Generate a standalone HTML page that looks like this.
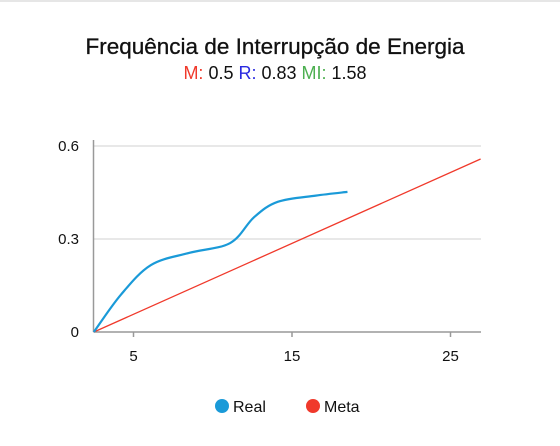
<!DOCTYPE html>
<html><head><meta charset="utf-8"><style>
body{margin:0;background:#fff;width:560px;height:446px;overflow:hidden;font-family:"Liberation Sans",sans-serif}
</style></head><body>
<div style="position:absolute;left:0;top:0;width:560px;height:2px;background:#e6e6e6"></div>
<svg id="chart" width="560" height="446" style="position:absolute;left:0;top:0">
<text x="275" y="54" text-anchor="middle" font-size="22.5" fill="#111" stroke="#111" stroke-width="0.3">Frequência de Interrupção de Energia</text>
<text x="275" y="79" text-anchor="middle" font-size="18"><tspan fill="#f0392b">M:</tspan><tspan fill="#111"> 0.5 </tspan><tspan fill="#2a2ae0">R:</tspan><tspan fill="#111"> 0.83 </tspan><tspan fill="#4caf50">MI:</tspan><tspan fill="#111"> 1.58</tspan></text>
<g id="plot"></g>
<g>
<circle cx="222" cy="406" r="7" fill="#1a9ad8"/>
<text x="233" y="412" font-size="16" fill="#111">Real</text>
<circle cx="313" cy="406" r="7" fill="#f0392b"/>
<text x="324" y="412" font-size="16" fill="#111">Meta</text>
</g>
</svg>
<script>
const xTicks=[5,15,25];
const yTicks=[0,0.3,0.6];
const yTickLabels=["0","0.3","0.6"];
const realX=[2.5,4.2,6.1,8.5,11.1,12.6,14.1,16.5,18.5];
const realY=[0,0.12,0.216,0.255,0.287,0.37,0.42,0.44,0.452];
const metaX=[2.5,26.9];
const metaY=[0,0.558];
const X0=93.5,X1=481,Y0=332;
function sx(v){return 54.25+v*15.85;}
function sy(v){return Y0-v*310;}
const g=document.getElementById('plot');
const NS='http://www.w3.org/2000/svg';
function mk(t,a){const e=document.createElementNS(NS,t);for(const k in a)e.setAttribute(k,a[k]);g.appendChild(e);return e;}
yTicks.forEach((v,i)=>{
 if(v>0){const l=mk('line',{x1:X0,x2:X1,y1:sy(v),y2:sy(v),stroke:'#e0e0e0','stroke-width':1.5});
 
 }
 const t=mk('text',{x:79,y:sy(v)+5,'text-anchor':'end','font-size':15,fill:'#111'});t.textContent=yTickLabels[i];
 
 
});
const ya=mk('line',{x1:X0,x2:X0,y1:140,y2:Y0,stroke:'#999','stroke-width':1.5});


const xa=mk('line',{x1:X0,x2:X1,y1:Y0,y2:Y0,stroke:'#999','stroke-width':1.5});


xTicks.forEach(v=>{
 const tk=mk('line',{x1:sx(v),x2:sx(v),y1:Y0,y2:Y0+5,stroke:'#999','stroke-width':1.5});
 
 
 const t=mk('text',{x:sx(v),y:Y0+29,'text-anchor':'middle','font-size':15,fill:'#111'});t.textContent=v;
 
 
});
function smooth(xs,ys){
 const p=xs.map((x,i)=>[sx(x),sy(ys[i])]);
 let d='M'+p[0][0]+','+p[0][1];
 for(let i=0;i<p.length-1;i++){
  const p0=p[i-1]||p[i],p1=p[i],p2=p[i+1],p3=p[i+2]||p2;
  const c1=[p1[0]+(p2[0]-p0[0])/6,p1[1]+(p2[1]-p0[1])/6];
  const c2=[p2[0]-(p3[0]-p1[0])/6,p2[1]-(p3[1]-p1[1])/6];
  d+=' C'+c1+' '+c2+' '+p2;
 }
 return d;
}
const meta=mk('path',{d:'M'+metaX.map((x,i)=>sx(x)+','+sy(metaY[i])).join(' L'),stroke:'#f0392b','stroke-width':1.3,fill:'none'});


const real=mk('path',{d:smooth(realX,realY),stroke:'#1a9ad8','stroke-width':2.2,fill:'none'});


</script>
</body></html>
